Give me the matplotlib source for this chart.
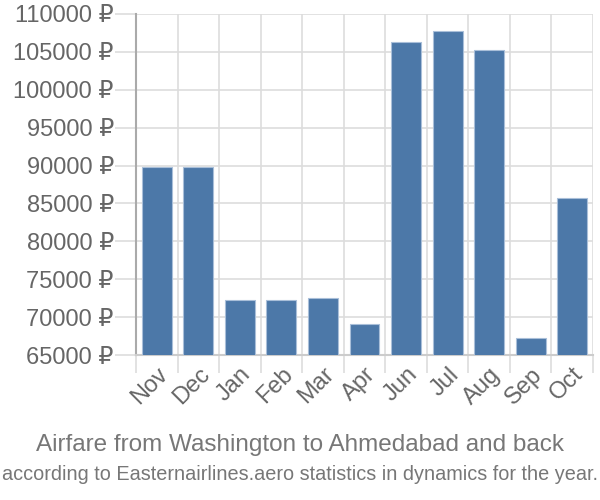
import matplotlib
matplotlib.use("Agg")
import matplotlib.pyplot as plt
import numpy as np

months = ["Nov", "Dec", "Jan", "Feb", "Mar", "Apr", "Jun", "Jul", "Aug", "Sep", "Oct"]
prices = [89850, 89850, 72250, 72250, 72550, 69150, 106250, 107700, 105300, 67250, 85750]
yticks = list(range(65000, 110001, 5000))

plt.rcParams['font.family'] = ['Liberation Sans', 'DejaVu Sans']

fig = plt.figure(figsize=(6, 5), dpi=100)
ax = fig.add_axes([136/600, 1-355/500, (593-136)/600, (355-14)/500])

x = np.arange(len(months))
ax.bar(x, prices, width=0.72, color="#4c78a8", edgecolor="#a9bfd9", linewidth=0.8, zorder=3)

ax.set_xlim(-0.5, len(months) - 0.5)
ax.set_ylim(65000, 110000)
ax.set_yticks(yticks)
ax.set_yticklabels([f"{v} ₽" for v in yticks], fontsize=17, color="#666666")
ax.set_xticks(x)
ax.set_xticklabels(months, rotation=45, ha='right', rotation_mode='anchor', fontsize=17, color="#666666")
ax.set_xticks(np.arange(-0.5, len(months)), minor=True)
ax.tick_params(axis='x', which='major', length=0, pad=6)
ax.tick_params(axis='x', which='minor', length=13, color="#dddddd", width=1.2)
ax.tick_params(axis='y', length=15, color="#dddddd", width=1.2, pad=1)
ax.grid(True, which='minor', axis='x', color="#dddddd", linewidth=1.2, zorder=0)
ax.grid(True, which='major', axis='y', color="#dddddd", linewidth=1.2, zorder=0)
for s in ['top', 'right']:
    ax.spines[s].set_visible(False)
ax.spines['left'].set_color("#aaaaaa")
ax.spines['left'].set_linewidth(1.5)
ax.spines['bottom'].set_color("#cccccc")
ax.spines['bottom'].set_linewidth(1.5)

fig.text(0.5, 1-445/500, "Airfare from Washington to Ahmedabad and back", ha='center', va='center',
         fontsize=17.5, color="#777777")
fig.text(0.5, 1-475/500, "according to Easternairlines.aero statistics in dynamics for the year.", ha='center', va='center',
         fontsize=14.3, color="#777777")

fig.savefig("out.png", dpi=100)
